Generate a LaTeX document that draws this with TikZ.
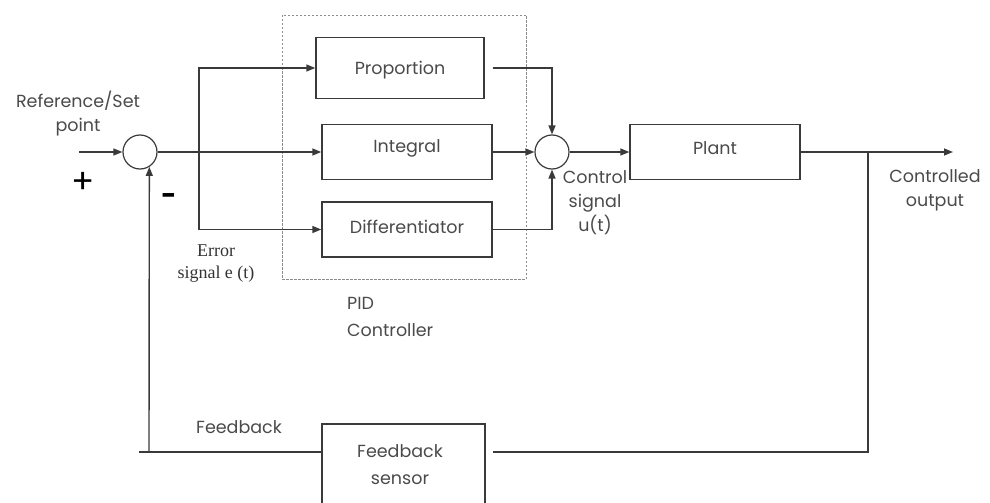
\documentclass[tikz,border=0pt]{standalone}
\usepackage{fontspec}
\setmainfont{Poppins}
\newfontfamily\serifE{Liberation Serif}
\usetikzlibrary{arrows.meta}
\definecolor{txt}{HTML}{4A4A4A}
\definecolor{ln}{HTML}{3A3A3A}
\tikzset{
  blk/.style={draw=ln, line width=1.4pt, rectangle, inner sep=0pt},
  sumc/.style={draw=ln, line width=1.2pt, circle, minimum size=34pt, inner sep=0pt},
  wire/.style={draw=ln, line width=1.4pt},
  arr/.style={wire, -{Triangle[length=9pt,width=7pt]}},
  lbl/.style={text=txt, font=\fontsize{17.5}{24}\selectfont, align=center, inner sep=0pt},
  elbl/.style={text=black!80, font=\serifE\fontsize{18}{22}\selectfont, align=center, inner sep=0pt},
}
\begin{document}
\begin{tikzpicture}[x=1pt,y=-1pt]
\useasboundingbox (0,0) rectangle (990,503);
\clip (0,0) rectangle (990,503);
% PID dashed frame
\draw[black!45, line width=0.8pt, dash pattern=on 2.5pt off 1.5pt] (282,15) rectangle (526,279);
% blocks
\node[blk, minimum width=168pt, minimum height=61pt] (P) at (400,68) {};
\node[lbl] (Pt) at (400,70) {Proportion};
\node[blk, minimum width=170pt, minimum height=55pt] (I) at (407,152) {};
\node[lbl] (It) at (407,148) {Integral};
\node[blk, minimum width=170pt, minimum height=55pt] (D) at (407,229.5) {};
\node[lbl] (Dt) at (407,227) {Differentiator};
\node[blk, minimum width=170pt, minimum height=55pt] (PL) at (715,152) {};
\node[lbl] (PLt) at (715,148) {Plant};
\node[blk, minimum width=163pt, minimum height=110pt] (FS) at (403.5,479) {};
\node[lbl] (FSt) at (400,465) {Feedback\\[3pt]sensor};
% summing junctions
\node[sumc] (S1) at (140,152) {};
\node[sumc] (S2) at (552,152) {};
% coordinates
\coordinate (in) at (79,152);
\coordinate (br) at (199,152);
\coordinate (out) at (953,152);
\coordinate (tap) at (868,152);
\coordinate (fbR) at (868,452);
\coordinate (fbL) at (139,452);
\coordinate (fbV) at (149,452);
% connectors
\draw[arr] (in) -- (S1.west);
\draw[arr] (S1.east) -- (I.west);
\draw[arr] (br) |- (P.west);
\draw[arr] (br) |- (D.west);
\draw[arr] ([xshift=8pt]P.east) -| (S2.north);
\draw[arr] (I.east) -- (S2.west);
\draw[arr] (D.east) -| (S2.south);
\draw[arr] (S2.east) -- (PL.west);
\draw[arr] (PL.east) -- (out);
\draw[wire] (tap) -- (fbR) -- ([xshift=7pt]FS.east |- fbR);
\draw[wire] (FS.west |- fbL) -- (fbL);
\draw[arr] (fbV) -- (S1.-58);
% labels
\node[lbl] (ref) at (78,114) {Reference/Set\\point};
\node[font=\fontsize{34}{34}\selectfont, inner sep=0pt] (plus) at (83,183) {+};
\node[font=\bfseries\fontsize{26}{26}\selectfont, inner sep=0pt] (minus) at (169,199) {-};
\node[elbl] (err) at (216,264) {Error\\signal e (t)};
\node[lbl] (ctrl) at (595,203) {Control\\signal\\u(t)};
\node[lbl] (cout) at (935,190) {Controlled\\output};
\node[lbl, align=left, anchor=west] (pid) at (347,317) {PID\\[3pt]Controller};
\node[lbl] (fb) at (239,427) {Feedback};
\end{tikzpicture}
\end{document}
